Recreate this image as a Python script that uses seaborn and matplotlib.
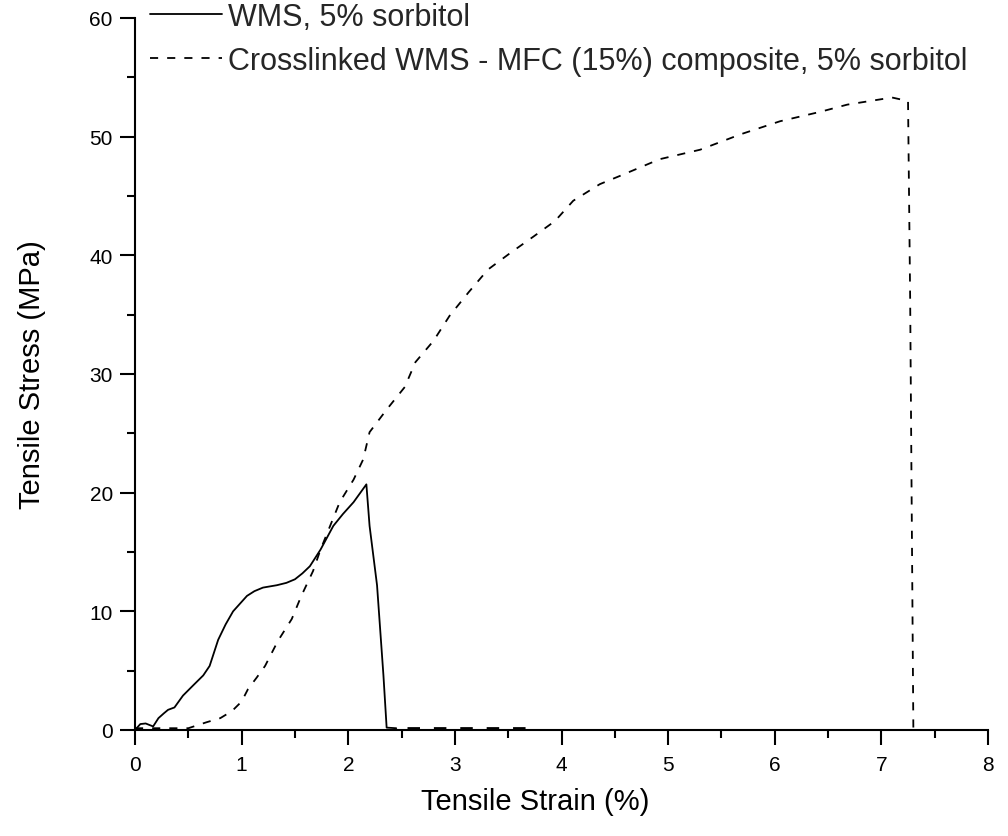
import matplotlib
matplotlib.use("Agg")
import matplotlib.pyplot as plt
import seaborn as sns
import numpy as np
import pandas as pd
from matplotlib.lines import Line2D

# ---- data ----
wms_strain = [0.00, 0.05, 0.10, 0.17, 0.22, 0.27, 0.31, 0.37, 0.45, 0.55, 0.64, 0.70, 0.74,
              0.78, 0.85, 0.92, 1.00, 1.05, 1.12, 1.20, 1.33, 1.42, 1.50, 1.57, 1.64, 1.74,
              1.86, 1.95, 2.05, 2.17, 2.20, 2.27, 2.33, 2.36, 2.45]
wms_stress = [0.0, 0.5, 0.55, 0.3, 1.0, 1.4, 1.7, 1.9, 2.9, 3.8, 4.6, 5.4, 6.5,
              7.6, 8.9, 10.0, 10.8, 11.3, 11.7, 12.0, 12.2, 12.4, 12.7, 13.2, 13.8, 15.2,
              17.2, 18.2, 19.2, 20.7, 17.2, 12.2, 4.6, 0.2, 0.15]

comp_strain = [0.00, 0.50, 0.67, 0.80, 0.91, 1.00, 1.06, 1.14, 1.22, 1.34, 1.47, 1.56, 1.67,
               1.74, 1.83, 1.92, 2.05, 2.14, 2.20, 2.36, 2.53, 2.63, 2.80, 2.95, 3.13, 3.31,
               3.52, 3.74, 3.94, 4.11, 4.36, 4.55, 4.92, 5.30, 5.68, 6.05, 6.43, 6.68, 6.89,
               7.10, 7.25, 7.27, 7.30]
comp_stress = [0.15, 0.15, 0.65, 1.0, 1.6, 2.4, 3.45, 4.4, 5.4, 7.5, 9.35, 11.3, 13.4,
               15.2, 17.2, 19.2, 21.1, 22.8, 25.1, 27.0, 28.9, 31.0, 32.8, 34.9, 36.9, 38.8,
               40.2, 41.6, 42.9, 44.6, 46.0, 46.7, 48.1, 48.9, 50.2, 51.3, 52.1, 52.7, 53.0,
               53.3, 53.0, 36.3, 0.0]

tail_strain = [2.55, 3.75]
tail_stress = [0.15, 0.15]

x_ticks = [0, 1, 2, 3, 4, 5, 6, 7, 8]
y_ticks = [0, 10, 20, 30, 40, 50, 60]

label_wms = "WMS, 5% sorbitol"
label_comp = "Crosslinked WMS - MFC (15%) composite, 5% sorbitol"

# ---- style ----
sns.set_style("ticks")
plt.rcParams['font.family'] = ['Liberation Sans', 'DejaVu Sans']

fig = plt.figure(figsize=(10.08, 8.37), dpi=100)
ax = fig.add_axes([135/1008, 1 - 731/837, (988-135)/1008, (731-19)/837])

dash = (0, (4.5, 5.0))
sns.lineplot(x=wms_strain, y=wms_stress, ax=ax, sort=False, estimator=None,
             color="black", linewidth=1.3)
sns.lineplot(x=comp_strain, y=comp_stress, ax=ax, sort=False, estimator=None,
             color="black", linewidth=1.3, linestyle=dash)
sns.lineplot(x=tail_strain, y=tail_stress, ax=ax, sort=False, estimator=None,
             color="black", linewidth=2.0, linestyle=dash)

ax.set_xlim(0, 8)
ax.set_ylim(0, 60)
ax.set_xticks(x_ticks)
ax.set_yticks(y_ticks)
ax.set_xticks([0.5 + i for i in range(8)], minor=True)
ax.set_yticks([5 + 10 * i for i in range(6)], minor=True)

for side in ["top", "right"]:
    ax.spines[side].set_visible(False)
for side in ["left", "bottom"]:
    ax.spines[side].set_linewidth(1.5)
    ax.spines[side].set_color("black")

ax.tick_params(axis="both", which="major", direction="out", length=11, width=1.5,
               labelsize=15, colors="black", pad=5)
ax.tick_params(axis="x", which="major", pad=7)
ax.tick_params(axis="both", which="minor", direction="out", length=6, width=1.5,
               colors="black")

ax.set_xlabel("Tensile Strain (%)", fontsize=21, color="black")
ax.set_ylabel("Tensile Stress (MPa)", fontsize=21, color="black")
ax.xaxis.set_label_coords((535 - 135) / 853, -(788 - 731) / 712)
ax.yaxis.set_label_coords(-(135 - 46) / 853, 0.5)

handles = [Line2D([], [], color="black", linewidth=1.3),
           Line2D([], [], color="black", linewidth=1.3, linestyle=dash)]
leg = fig.legend(handles, [label_wms, label_comp], loc="upper left",
                 bbox_to_anchor=(150/1008, 1 - 3/837), frameon=False, fontsize=22,
                 handlelength=2.35, handletextpad=0.2, labelspacing=0.45,
                 borderpad=0.0, borderaxespad=0.0)

fig.savefig("out.png", dpi=100)
